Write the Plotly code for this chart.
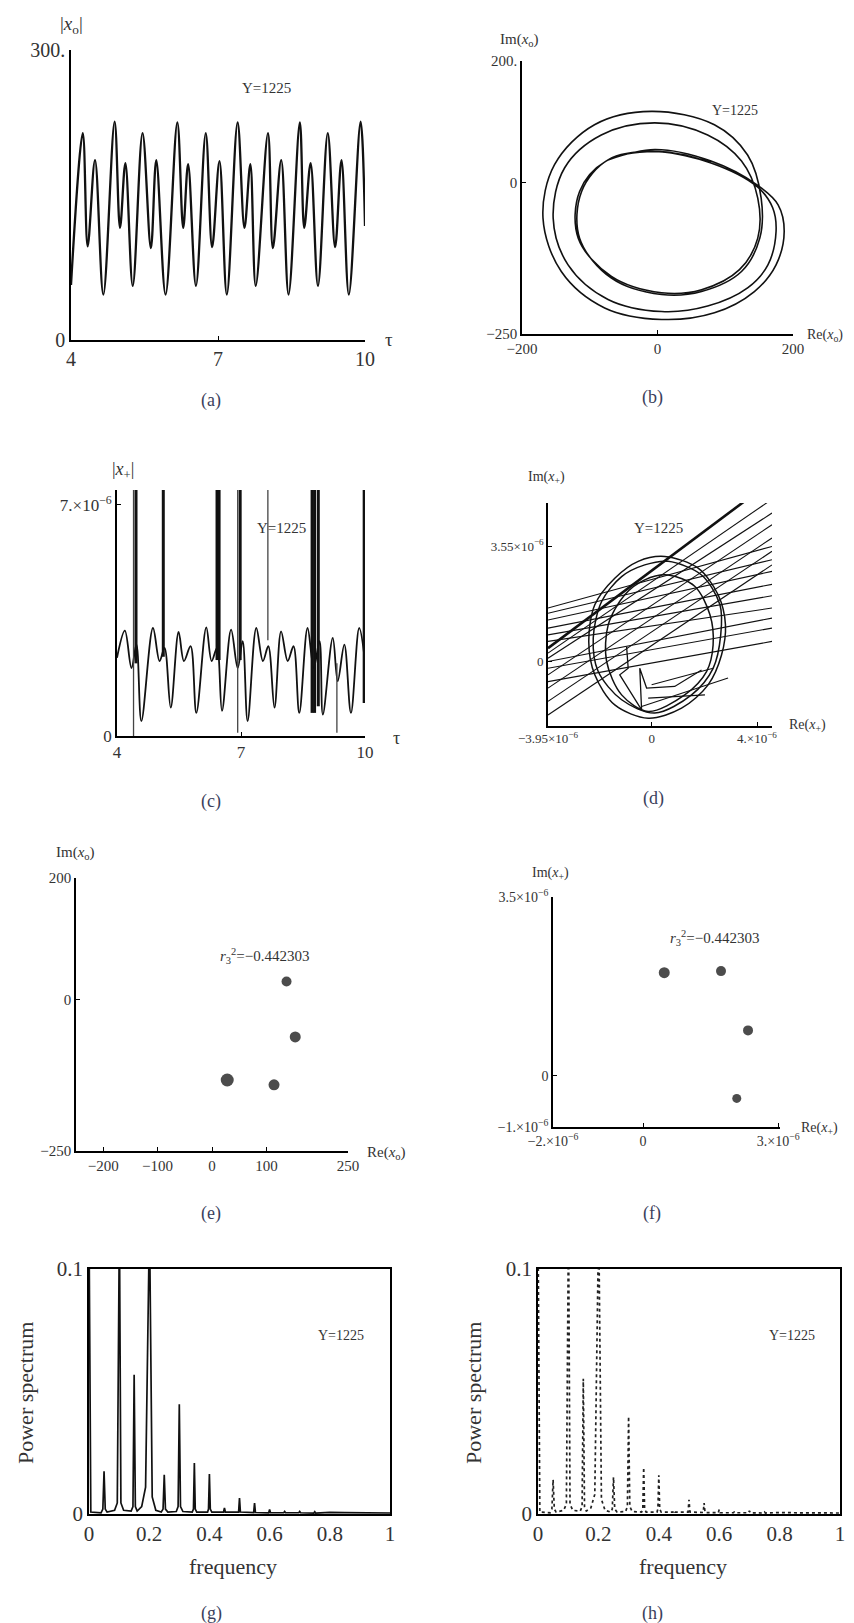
import plotly.graph_objects as go

W, H = 854, 1623
FONT = "Liberation Serif"
INK = "#111111"
TXT = "#333333"

# ---------------- (a) |x_o| vs tau (local extrema)
tau_a = [4.00, 4.24, 4.34, 4.49, 4.66, 4.89, 5.00, 5.11, 5.26, 5.46, 5.63, 5.74, 5.93,
         6.17, 6.29, 6.39, 6.55, 6.75, 6.88, 7.03, 7.18, 7.40, 7.54, 7.66, 7.77, 8.02,
         8.12, 8.29, 8.44, 8.67, 8.76, 8.89, 9.04, 9.24, 9.39, 9.52, 9.67, 9.91, 10.0]
absx0_a = [57, 214, 97, 186, 47, 226, 116, 183, 56, 214, 95, 186, 47,
           225, 116, 182, 56, 214, 96, 185, 47, 225, 116, 182, 56, 214,
           95, 186, 47, 225, 116, 183, 56, 214, 96, 186, 47, 226, 118]

# ---------------- (b) Re/Im of x_o (two passes of the looped orbit)
re_b = [-73, -4, 79, 148, 178, 187, 175, 143, 84, 6, -78, -142, -169, -152, -93, -9, 84, 133,
        153, 151, 124, 65, 6, -68, -115, -112, -73,
        -4, 79, 148, 170, 175, 163, 133, 74, 6, -73, -132, -154, -137, -83, -4, 74, 124,
        148, 148, 121, 65, 6, -68, -117, -115, -76, -4, 79]
im_b = [37, 54, 35, -5, -37, -81, -136, -180, -215, -226, -207, -147, -59, 29, 95, 117, 95, 45,
        -26, -92, -147, -180, -185, -158, -92, -15, 37,
        51, 32, -8, -42, -81, -136, -174, -204, -213, -193, -136, -59, 24, 78, 98, 78, 35,
        -26, -92, -144, -177, -182, -155, -92, -15, 35, 51, 33]

# ---------------- (c) |x_+| vs tau, values in units of 1e-6
tau_c = [4.00, 4.19, 4.35, 4.47, 4.59, 4.87, 5.03, 5.15, 5.30, 5.49, 5.62, 5.78, 5.92,
         6.16, 6.29, 6.42, 6.54, 6.76, 6.92, 7.04, 7.16, 7.37, 7.53, 7.66, 7.81, 7.97,
         8.13, 8.27, 8.41, 8.61, 8.76, 8.90, 8.98, 9.22, 9.34, 9.50, 9.66, 9.86, 10.0]
absxp_c = [2.37, 3.19, 2.06, 2.77, 0.45, 3.27, 2.27, 2.67, 0.86, 3.15, 2.27, 2.72, 0.70,
           3.29, 2.27, 2.67, 0.76, 3.22, 2.06, 2.87, 0.45, 3.27, 2.27, 2.72, 0.86, 3.17,
           2.27, 2.72, 0.70, 3.27, 2.06, 2.87, 0.65, 2.97, 1.66, 2.77, 0.70, 3.27, 2.27]
spike_tau_c = [4.40, 4.46, 5.12, 6.42, 6.47, 6.92, 6.98, 7.65, 8.72, 8.78, 8.87, 9.32, 9.98]
spike_lo_c = [0.0, 2.2, 2.4, 2.3, 2.3, 0.1, 2.3, 2.9, 0.7, 0.7, 0.9, 0.1, 1.0]
spike_hi_c = [8.0, 8.0, 8.0, 8.0, 8.0, 8.0, 8.0, 8.0, 8.0, 8.0, 8.0, 2.2, 8.0]
spike_thick_c = [False, True, True, True, True, False, True, False, True, True, True, False, True]

# ---------------- (d) Re/Im of x_+, units of 1e-6
orbit1_re_d = [0.49, 1.76, 2.52, 2.80, 2.65, 2.14, 1.13, -0.14, -1.41, -2.17, -2.40, -2.17, -1.41, -0.52, 0.49]
orbit1_im_d = [3.23, 2.87, 2.05, 1.12, 0.19, -0.73, -1.45, -1.76, -1.35, -0.42, 0.61, 1.74, 2.56, 3.08, 3.23]
orbit2_re_d = [0.62, 1.89, 2.59, 2.62, 2.33, 1.51, 0.11, -1.15, -2.04, -2.23, -1.91, -1.15, -0.27, 0.62]
orbit2_im_d = [3.08, 2.66, 1.74, 0.81, -0.22, -1.04, -1.60, -1.19, -0.32, 0.71, 1.84, 2.61, 2.97, 3.08]
orbit3_re_d = [0.62, 1.63, 2.21, 2.33, 2.08, 1.25, -0.14, -1.15, -1.72, -1.66, -1.03, -0.27, 0.62]
orbit3_im_d = [2.66, 2.31, 1.43, 0.50, -0.32, -1.04, -1.55, -1.04, -0.01, 1.12, 2.05, 2.51, 2.66]
jag_re_d = [-0.96, -0.90, -1.22, -0.39, -0.46, -0.20, 0.87, 1.89]
jag_im_d = [0.45, -0.22, -0.42, -1.50, -0.22, -0.83, -0.78, -0.27]
seg_x0_d = [-3.95, -3.95, -3.95, -3.95, -3.95, -3.95, -3.95, -3.95, -3.95,
            -3.95, -3.95, -3.95, -3.95, -3.95, -3.95, -3.95, -0.39, -0.14, -0.01]
seg_y0_d = [1.64, 1.48, 1.27, 1.02, 0.81, 0.61, -0.01, -0.22, -0.63,
            0.40, 0.25, 0.09, -0.42, -0.83, -1.24, -1.66, -1.40, -1.14, -0.73]
seg_x1_d = [4.57, 4.57, 4.57, 4.57, 4.57, 4.57, 4.57, 4.57, 4.57,
            3.60, 4.45, 4.57, 4.57, 4.57, 4.57, 4.57, 2.90, 2.02, 2.33]
seg_y1_d = [3.54, 3.13, 2.77, 2.37, 2.02, 1.64, 1.33, 1.02, 0.61,
            4.98, 4.93, 4.57, 4.21, 3.80, 3.39, 2.97, -0.52, -1.04, -0.22]

# ---------------- (e) Poincare section of x_o
re_e = [137, 153, 28, 114]
im_e = [29.5, -62, -133, -141]

# ---------------- (f) Poincare section of x_+, units of 1e-6
re_f = [0.47, 1.73, 2.33, 2.08]
im_f = [2.02, 2.05, 0.89, -0.44]

# ---------------- (g) power spectrum (solid)
freq_g = [0.000, 0.006, 0.040, 0.046, 0.050, 0.054, 0.060,
          0.085, 0.094, 0.099, 0.101, 0.106, 0.115,
          0.140, 0.146, 0.150, 0.154, 0.160,
          0.175, 0.188, 0.199, 0.201, 0.210, 0.222,
          0.240, 0.246, 0.250, 0.254, 0.262,
          0.290, 0.296, 0.300, 0.304, 0.312,
          0.343, 0.347, 0.350, 0.353, 0.358,
          0.394, 0.397, 0.400, 0.403, 0.408,
          0.447, 0.450, 0.453, 0.497, 0.500, 0.503, 0.547, 0.550, 0.553,
          0.597, 0.600, 0.603, 0.647, 0.650, 0.653, 0.697, 0.700, 0.703,
          0.747, 0.750, 0.753, 0.800, 0.850, 0.900, 0.950, 1.000]
pow_g = [0.120, 0.0008, 0.0005, 0.0020, 0.0174, 0.0020, 0.0008,
         0.0015, 0.0045, 0.120, 0.120, 0.0045, 0.0015,
         0.0012, 0.0030, 0.0568, 0.0030, 0.0012,
         0.0030, 0.0110, 0.120, 0.120, 0.0070, 0.0015,
         0.0008, 0.0020, 0.0160, 0.0020, 0.0008,
         0.0010, 0.0030, 0.0448, 0.0030, 0.0010,
         0.0008, 0.0020, 0.0208, 0.0020, 0.0008,
         0.0008, 0.0020, 0.0163, 0.0020, 0.0008,
         0.0008, 0.0025, 0.0008, 0.0008, 0.0065, 0.0008, 0.0006, 0.0045, 0.0006,
         0.0005, 0.0018, 0.0005, 0.0005, 0.0010, 0.0005, 0.0005, 0.0010, 0.0005,
         0.0004, 0.0009, 0.0004, 0.0007, 0.0006, 0.0005, 0.0005, 0.0004]

# ---------------- (h) power spectrum (dotted)
freq_h = [0.000, 0.006, 0.040, 0.046, 0.050, 0.054, 0.060,
          0.085, 0.094, 0.099, 0.101, 0.106, 0.115,
          0.140, 0.146, 0.150, 0.154, 0.160,
          0.175, 0.188, 0.199, 0.201, 0.210, 0.222,
          0.240, 0.246, 0.250, 0.254, 0.262,
          0.290, 0.296, 0.300, 0.304, 0.312,
          0.343, 0.347, 0.350, 0.353, 0.358,
          0.394, 0.397, 0.400, 0.403, 0.408,
          0.447, 0.450, 0.453, 0.497, 0.500, 0.503, 0.547, 0.550, 0.553,
          0.597, 0.600, 0.603, 0.647, 0.650, 0.653, 0.697, 0.700, 0.703,
          0.747, 0.750, 0.753, 0.800, 0.850, 0.900, 0.950, 1.000]
pow_h = [0.120, 0.0008, 0.0005, 0.0020, 0.0140, 0.0020, 0.0008,
         0.0015, 0.0040, 0.120, 0.120, 0.0040, 0.0015,
         0.0012, 0.0030, 0.0552, 0.0030, 0.0012,
         0.0025, 0.0080, 0.120, 0.120, 0.0060, 0.0015,
         0.0008, 0.0020, 0.0150, 0.0020, 0.0008,
         0.0010, 0.0030, 0.0398, 0.0030, 0.0010,
         0.0008, 0.0020, 0.0190, 0.0020, 0.0008,
         0.0008, 0.0020, 0.0158, 0.0020, 0.0008,
         0.0008, 0.0015, 0.0008, 0.0008, 0.0058, 0.0008, 0.0006, 0.0045, 0.0006,
         0.0005, 0.0018, 0.0005, 0.0005, 0.0008, 0.0005, 0.0005, 0.0013, 0.0005,
         0.0004, 0.0008, 0.0004, 0.0006, 0.0005, 0.0005, 0.0005, 0.0004]

fig = go.Figure()


def px_dom_x(l, r):
    return [l / W, r / W]


def px_dom_y(t, b):
    return [1 - b / H, 1 - t / H]


def ax(dom, rng, tickvals, ticktext, size, box=False, anchor=None):
    d = dict(domain=dom, range=rng, tickvals=tickvals, ticktext=ticktext,
             showline=True, linecolor="black", linewidth=1.8 if box else 1.6,
             mirror=True if box else False, automargin=False,
             ticks="" if box else "inside", ticklen=4, tickwidth=1.2, tickcolor="black",
             showgrid=False, zeroline=False, anchor=anchor,
             tickfont=dict(family=FONT, size=size, color=TXT))
    return d


panels = {
    1: dict(x=px_dom_x(63, 357), y=px_dom_y(42, 332), xr=[4, 10], yr=[0, 300],
            xt=[4, 7, 10], xtt=["4", "7", "10"], yt=[0, 300], ytt=["0", "300."], fs=20),
    2: dict(x=px_dom_x(514, 785), y=px_dom_y(53, 326), xr=[-200, 200], yr=[-250, 200],
            xt=[-200, 0, 200], xtt=["−200", "0", "200"], yt=[-250, 0, 200], ytt=["−250", "0", "200."], fs=15),
    3: dict(x=px_dom_x(109, 357), y=px_dom_y(482, 728), xr=[4, 10], yr=[0, 7.45],
            xt=[4, 7, 10], xtt=["4", "7", "10"], yt=[0, 7], ytt=["0", "7.×10<sup>−6</sup>"], fs=17),
    4: dict(x=px_dom_x(540, 764), y=px_dom_y(495, 718), xr=[-3.95, 4.57], yr=[-2.0, 4.88],
            xt=[-3.95, 0, 4], xtt=["−3.95×10<sup>−6</sup>", "0", "4.×10<sup>−6</sup>"],
            yt=[0, 3.55], ytt=["0", "3.55×10<sup>−6</sup>"], fs=13),
    5: dict(x=px_dom_x(68, 340), y=px_dom_y(870, 1143), xr=[-250, 250], yr=[-250, 200],
            xt=[-200, -100, 0, 100, 250], xtt=["−200", "−100", "0", "100", "250"],
            yt=[-250, 0, 200], ytt=["−250", "0", "200"], fs=15),
    6: dict(x=px_dom_x(545, 772), y=px_dom_y(889, 1119), xr=[-2, 3.04], yr=[-1, 3.5],
            xt=[-2, 0, 3], xtt=["−2.×10<sup>−6</sup>", "0", "3.×10<sup>−6</sup>"],
            yt=[-1, 0, 3.5], ytt=["−1.×10<sup>−6</sup>", "0", "3.5×10<sup>−6</sup>"], fs=14),
    7: dict(x=px_dom_x(81, 382), y=px_dom_y(1261, 1506), xr=[0, 1], yr=[0, 0.1],
            xt=[0, 0.2, 0.4, 0.6, 0.8, 1], xtt=["0", "0.2", "0.4", "0.6", "0.8", "1"],
            yt=[0, 0.1], ytt=["0", "0.1"], fs=21, box=True),
    8: dict(x=px_dom_x(530, 832), y=px_dom_y(1261, 1506), xr=[0, 1], yr=[0, 0.1],
            xt=[0, 0.2, 0.4, 0.6, 0.8, 1], xtt=["0", "0.2", "0.4", "0.6", "0.8", "1"],
            yt=[0, 0.1], ytt=["0", "0.1"], fs=21, box=True),
}

layout_axes = {}
for i, p in panels.items():
    sx = "" if i == 1 else str(i)
    box = p.get("box", False)
    layout_axes["xaxis" + sx] = ax(p["x"], p["xr"], p["xt"], p["xtt"], p["fs"], box, "y" + sx)
    layout_axes["yaxis" + sx] = ax(p["y"], p["yr"], p["yt"], p["ytt"], p["fs"], box, "x" + sx)


def ref(i):
    s = "" if i == 1 else str(i)
    return dict(xaxis="x" + s, yaxis="y" + s)


# (a)
fig.add_trace(go.Scatter(x=tau_a, y=absx0_a, mode="lines",
                         line=dict(color=INK, width=2.3, shape="spline", smoothing=1.0), **ref(1)))
# (b)
fig.add_trace(go.Scatter(x=re_b, y=im_b, mode="lines",
                         line=dict(color=INK, width=1.6, shape="spline", smoothing=1.0), **ref(2)))
# (c)
fig.add_trace(go.Scatter(x=tau_c, y=absxp_c, mode="lines",
                         line=dict(color=INK, width=1.8, shape="spline", smoothing=1.0), **ref(3)))
for t, lo, hi, thick in zip(spike_tau_c, spike_lo_c, spike_hi_c, spike_thick_c):
    fig.add_trace(go.Scatter(x=[t, t], y=[lo, hi], mode="lines",
                             line=dict(color=INK if thick else "#444", width=3.0 if thick else 1.3),
                             **ref(3)))
# (d)
for rx, ry in [(orbit1_re_d, orbit1_im_d), (orbit2_re_d, orbit2_im_d), (orbit3_re_d, orbit3_im_d)]:
    fig.add_trace(go.Scatter(x=rx, y=ry, mode="lines",
                             line=dict(color=INK, width=1.5, shape="spline", smoothing=0.9), **ref(4)))
fig.add_trace(go.Scatter(x=jag_re_d, y=jag_im_d, mode="lines",
                         line=dict(color=INK, width=1.3), **ref(4)))
for k, (a0, b0, a1, b1) in enumerate(zip(seg_x0_d, seg_y0_d, seg_x1_d, seg_y1_d)):
    fig.add_trace(go.Scatter(x=[a0, a1], y=[b0, b1], mode="lines",
                             line=dict(color=INK, width=2.6 if k == 9 else 1.1), **ref(4)))
# (e)
fig.add_trace(go.Scatter(x=re_e, y=im_e, mode="markers",
                         marker=dict(color="black", size=[10, 11, 13, 11], line=dict(width=0)), **ref(5)))
# (f)
fig.add_trace(go.Scatter(x=re_f, y=im_f, mode="markers",
                         marker=dict(color="black", size=[11, 10, 10, 9], line=dict(width=0)), **ref(6)))
# (g)
fig.add_trace(go.Scatter(x=freq_g, y=pow_g, mode="lines",
                         line=dict(color=INK, width=1.7), **ref(7)))
# (h)
fig.add_trace(go.Scatter(x=freq_h, y=pow_h, mode="lines",
                         line=dict(color="#222", width=1.7, dash="dot"), **ref(8)))

annots = []


def ann(text, px, py, size=15, angle=0, color=TXT, xanchor="center"):
    annots.append(dict(text=text, x=px / W, y=1 - py / H, xref="paper", yref="paper",
                       showarrow=False, textangle=angle, xanchor=xanchor, yanchor="middle",
                       font=dict(family=FONT, size=size, color=color)))


XO = "<i>x</i><sub>o</sub>"
XP = "<i>x</i><sub>+</sub>"
R3 = "<i>r</i><sub>3</sub><sup>2</sup>=−0.442303"

# (a)
ann("|" + XO + "|", 63, 17, 19)
ann("τ", 381, 331, 19)
ann("Y=1225", 258, 80, 15)
# (b)
ann("Im(" + XO + ")", 511, 32, 15)
ann("Re(" + XO + ")", 797, 327, 14, xanchor="left")
ann("Y=1225", 727, 103, 14)
# (c)
ann("|" + XP + "|", 115, 462, 18)
ann("τ", 388, 730, 18)
ann("Y=1225", 273, 520, 15)
# (d)
ann("Im(" + XP + ")", 538, 470, 14)
ann("Re(" + XP + ")", 799, 717, 14)
ann("Y=1225", 650, 520, 15)
# (e)
ann("Im(" + XO + ")", 67, 845, 15)
ann("Re(" + XO + ")", 378, 1145, 15)
ann(R3, 257, 948, 15)
# (f)
ann("Im(" + XP + ")", 542, 865, 14)
ann("Re(" + XP + ")", 811, 1120, 14)
ann(R3, 707, 930, 15)
# (g)
ann("Power spectrum", 17, 1385, 22, angle=-90)
ann("frequency", 225, 1558, 22)
ann("Y=1225", 333, 1327, 14)
# (h)
ann("Power spectrum", 465, 1385, 22, angle=-90)
ann("frequency", 675, 1558, 22)
ann("Y=1225", 784, 1327, 14)

LBL = "#3b3f5c"
for lab, px, py in [("(a)", 203, 393), ("(b)", 644, 389), ("(c)", 203, 793), ("(d)", 645, 790),
                    ("(e)", 203, 1205), ("(f)", 644, 1205), ("(g)", 203, 1605), ("(h)", 644, 1605)]:
    ann(lab, px, py, 18, color=LBL)

fig.update_layout(width=W, height=H,
                  margin=dict(l=0, r=0, t=0, b=0, pad=0, autoexpand=False),
                  paper_bgcolor="white", plot_bgcolor="white", showlegend=False,
                  annotations=annots, **layout_axes)

fig.write_html("out.html", config={"displayModeBar": False})
